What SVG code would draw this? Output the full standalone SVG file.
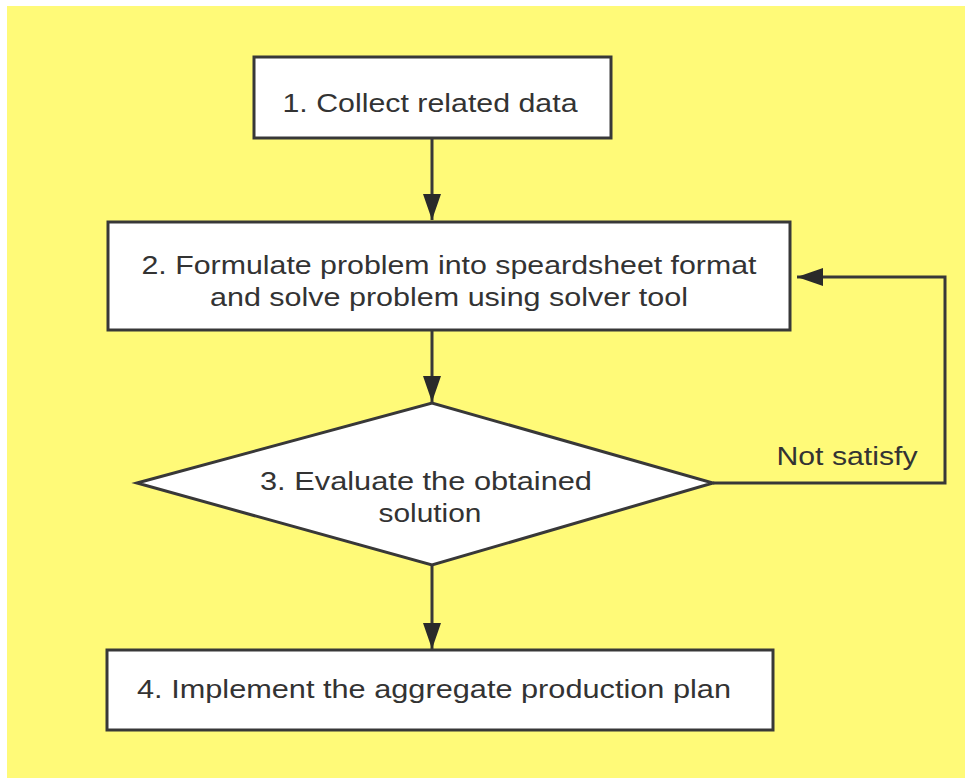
<svg xmlns="http://www.w3.org/2000/svg" width="965" height="778" viewBox="0 0 965 778">
<style>
.node{fill:#ffffff;stroke:#383838;stroke-width:3}
.t{font-family:"Liberation Sans",Arial,sans-serif;font-size:26px;fill:#333333;text-anchor:middle}
.c{fill:none;stroke:#383838;stroke-width:3}
</style>
<defs>
<marker id="ah" markerUnits="userSpaceOnUse" markerWidth="28" markerHeight="20" refX="26" refY="9" orient="auto">
<path d="M0,0 L26,9 L0,18 Z" fill="#2a2a2a"/>
</marker>
</defs>
<rect x="0" y="0" width="965" height="778" fill="#ffffff"/>
<rect x="7" y="6" width="958" height="772" fill="#fffa78"/>
<g id="connectors">
<line class="c" x1="432" y1="139" x2="432" y2="220" marker-end="url(#ah)"/>
<line class="c" x1="432" y1="331" x2="432" y2="402" marker-end="url(#ah)"/>
<line class="c" x1="432" y1="566" x2="432" y2="649" marker-end="url(#ah)"/>
<polyline class="c" points="713,483 945,483 945,277 797,277" marker-end="url(#ah)"/>
<text class="t" x="847" y="465" textLength="141" lengthAdjust="spacingAndGlyphs">Not satisfy</text>
</g>
<g id="node1">
<rect class="node" x="254" y="57" width="357" height="81"/>
<text class="t" x="430" y="112" textLength="295" lengthAdjust="spacingAndGlyphs">1. Collect related data</text>
</g>
<g id="node2">
<rect class="node" x="108" y="222" width="682" height="108"/>
<text class="t" x="449" y="274" textLength="615" lengthAdjust="spacingAndGlyphs">2. Formulate problem into speardsheet format</text>
<text class="t" x="449" y="306" textLength="478" lengthAdjust="spacingAndGlyphs">and solve problem using solver tool</text>
</g>
<g id="node3">
<polygon class="node" points="137,483 432,403 713,483 432,565"/>
<text class="t" x="426" y="490" textLength="332" lengthAdjust="spacingAndGlyphs">3. Evaluate the obtained</text>
<text class="t" x="430" y="522" textLength="103" lengthAdjust="spacingAndGlyphs">solution</text>
</g>
<g id="node4">
<rect class="node" x="107" y="650" width="666" height="80"/>
<text class="t" x="434" y="698" textLength="594" lengthAdjust="spacingAndGlyphs">4. Implement the aggregate production plan</text>
</g>
</svg>
